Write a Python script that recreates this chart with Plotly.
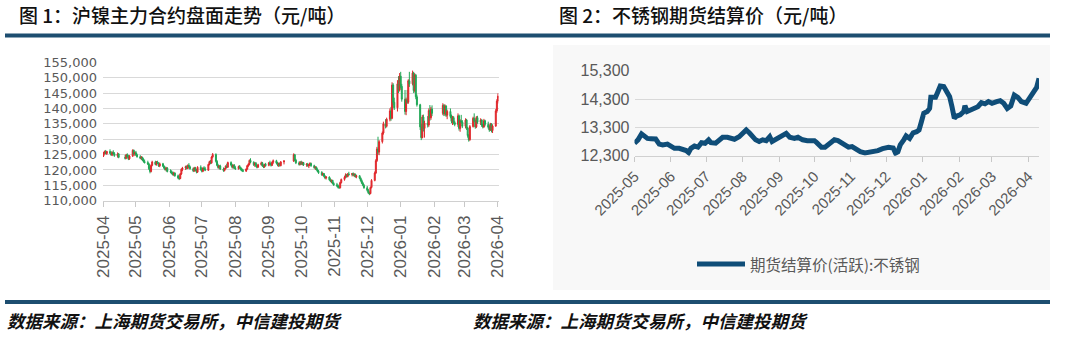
import pandas as pd
import plotly.graph_objects as go

# ---------------- Figure 1: SHFE nickel main contract, daily OHLC (thousand yuan/t) ----------------
ni_start, ni_end = "2025-04-01", "2026-04-01"
ni_no_trade = [("2025-04-16", "2025-04-18"), ("2025-09-16", "2025-09-23"),
               ("2025-12-17", "2025-12-17"), ("2026-01-31", "2026-02-08")]

ni_open = [
    # Apr 2025
    124.6,125.6,125.9,125.3,126.0,125.4,124.9,125.7,125.3,124.6,125.2,124.1,123.8,124.9,124.3,123.6,124.5,126.4,125.2,
    # May
    125.6,124.9,124.3,123.8,124.1,123.2,122.7,122.4,121.9,120.4,119.5,121.5,122.6,121.8,122.5,122.2,121.3,122.0,121.2,120.6,120.1,120.6,
    # Jun
    119.5,119.3,119.0,118.5,119.0,118.1,117.4,117.2,118.7,120.2,120.6,121.1,120.5,121.5,121.0,120.4,119.7,120.6,119.9,119.3,120.9,
    # Jul
    120.1,119.6,120.6,120.4,119.9,121.8,122.7,122.3,124.2,125.0,122.8,121.5,120.8,121.3,120.3,119.8,120.4,121.2,120.9,122.4,121.6,120.9,121.5,
    # Aug
    120.6,120.4,121.1,120.7,120.2,119.8,119.6,120.3,121.4,121.8,123.1,122.5,121.7,122.2,121.3,120.9,121.7,122.3,121.4,121.0,121.8,
    # Sep
    121.5,122.3,122.0,121.5,122.5,123.0,122.2,121.6,122.1,121.4,122.6,122.9,124.9,123.2,122.3,121.8,
    # Oct
    122.5,122.0,122.4,121.6,121.9,121.3,121.7,122.1,121.4,120.7,120.9,120.1,119.5,119.2,118.4,118.8,117.9,117.4,117.7,116.8,116.3,116.6,115.6,
    # Nov
    115.2,114.9,114.4,114.2,115.9,116.9,117.6,118.4,117.9,118.7,118.5,118.8,118.3,118.6,117.8,118.1,117.3,116.5,115.7,115.0,
    # Dec
    114.2,113.4,112.6,112.3,114.3,116.6,119.0,123.0,126.8,125.8,129.2,132.0,135.0,134.2,136.5,139.2,136.8,147.6,142.0,140.2,148.0,146.0,
    # Jan 2026
    150.5,147.2,143.0,139.0,142.8,142.0,149.0,148.0,151.5,145.8,150.8,143.8,141.2,134.0,130.5,137.2,133.5,135.2,134.6,139.3,137.0,139.8,
    # Feb
    138.4,141.0,138.2,140.8,137.8,139.0,137.4,135.8,137.0,135.4,134.8,137.6,133.5,136.0,135.6,
    # Mar
    134.2,136.2,133.6,131.2,129.8,134.1,136.8,136.0,134.0,137.0,135.5,136.2,134.6,134.0,136.0,134.8,133.9,133.0,134.9,132.8,134.3,139.2,
    # Apr
    142.4,
]
ni_high = [
    125.9,126.3,126.5,126.2,126.7,126.1,126.0,126.4,125.8,125.7,125.5,124.9,125.2,125.4,124.9,124.8,126.7,126.6,126.0,
    126.2,125.3,124.8,124.5,124.3,123.8,123.4,123.0,122.3,120.8,121.8,123.0,123.0,122.9,123.0,122.5,122.4,122.3,121.5,121.1,121.0,120.9,
    120.2,119.9,119.5,119.4,119.2,118.5,118.2,119.0,120.5,121.0,121.4,121.5,121.8,122.2,121.4,120.8,121.0,121.0,120.3,121.2,121.5,
    120.6,120.9,121.2,121.0,122.0,123.0,123.2,124.5,125.5,125.4,123.2,122.0,121.6,121.7,120.8,120.6,121.5,122.0,122.7,122.8,122.0,121.8,121.9,
    121.2,121.4,121.6,121.0,120.6,120.3,120.5,121.6,122.2,123.4,123.8,122.8,122.5,122.6,121.7,122.0,122.7,122.6,121.8,122.0,122.3,
    122.6,123.0,122.4,122.8,123.4,123.3,122.6,122.4,122.4,122.9,123.2,125.4,125.2,123.6,122.8,122.9,
    123.0,122.7,122.6,122.2,122.3,121.9,122.5,122.4,121.7,121.2,121.1,120.5,120.0,119.6,119.1,119.0,118.3,118.0,117.9,117.3,116.9,116.8,116.0,
    115.8,115.3,115.0,116.2,117.2,118.0,118.9,118.7,119.0,119.4,119.0,119.2,118.9,118.8,118.4,118.3,117.6,116.9,116.1,115.4,
    114.8,113.8,113.0,114.6,117.0,119.5,123.5,127.5,130.8,129.7,132.5,135.7,136.5,137.0,140.0,140.5,148.5,148.2,143.5,149.2,150.5,151.5,
    151.9,148.0,146.0,143.5,146.0,149.5,151.9,152.3,151.9,151.4,151.2,144.5,141.5,135.0,137.9,138.0,136.0,137.5,140.0,141.1,140.5,141.0,
    141.7,141.4,141.3,141.0,139.6,140.0,138.0,137.6,137.5,136.0,138.4,138.0,136.5,137.9,136.2,
    136.8,136.6,134.0,131.6,134.6,137.3,138.4,136.4,137.5,137.6,136.8,136.5,135.0,136.6,136.3,135.7,134.5,135.3,135.2,134.8,139.8,143.0,
    144.9,
]
ni_low = [
    124.2,125.0,125.1,124.9,125.2,124.6,124.5,125.0,124.3,124.0,123.8,123.4,123.5,124.0,123.2,123.3,124.2,124.8,124.5,
    124.6,124.0,123.5,123.2,122.9,122.4,122.1,121.6,120.0,118.9,119.2,121.2,121.5,121.4,121.9,121.0,120.9,121.0,120.3,119.8,119.5,119.2,
    118.9,118.6,118.2,118.0,117.8,117.0,116.7,117.0,118.4,119.6,120.0,120.2,120.3,120.8,120.1,119.3,119.4,119.6,118.9,119.0,119.8,
    119.2,119.3,120.0,119.6,119.7,121.5,121.9,122.0,123.8,122.4,121.2,120.4,120.2,120.0,119.4,119.5,120.2,120.6,120.7,121.2,120.5,120.4,120.3,
    120.0,120.1,120.4,119.8,119.5,119.3,119.4,120.1,121.0,121.5,122.2,121.3,121.0,120.9,120.5,120.7,121.4,121.0,120.6,120.7,121.1,
    121.2,121.7,121.1,121.3,122.0,121.9,121.2,121.0,121.1,121.2,121.8,122.6,122.8,121.9,121.4,121.5,
    121.6,121.5,121.3,121.0,121.1,120.6,121.3,121.0,120.4,120.0,119.8,119.2,118.7,118.1,118.0,117.6,117.0,116.9,116.5,116.0,115.7,115.3,114.8,
    114.4,114.0,113.9,114.0,115.6,116.5,117.3,117.5,117.6,118.1,117.9,118.0,117.7,117.5,117.3,117.0,116.2,115.4,114.7,113.9,
    113.0,112.2,111.8,112.1,114.0,116.3,118.7,122.6,125.0,124.8,128.6,131.5,133.5,133.8,135.8,136.0,136.5,141.0,139.5,139.0,145.0,145.5,
    146.5,142.2,138.0,137.8,141.5,141.5,147.0,147.5,145.0,145.2,143.0,140.6,133.0,129.7,130.3,132.5,130.5,133.8,134.0,136.0,136.3,137.5,
    137.8,137.5,137.6,137.2,136.5,136.8,135.2,134.6,134.8,134.2,134.0,132.8,132.4,135.0,133.6,
    133.5,133.0,130.5,129.2,129.5,133.8,135.5,133.4,133.6,135.0,134.6,134.0,133.5,133.7,134.2,133.4,132.4,132.7,132.2,132.0,134.0,138.6,
    141.6,
]
ni_close = [
    125.6,125.9,125.3,126.0,125.4,124.9,125.7,125.3,124.6,125.2,124.1,123.8,124.9,124.3,123.6,124.5,126.4,125.2,125.6,
    124.9,124.3,123.8,124.1,123.2,122.7,122.4,121.9,120.4,119.5,121.5,122.6,121.8,122.5,122.2,121.3,122.0,121.2,120.6,120.1,120.6,119.5,
    119.3,119.0,118.5,119.0,118.1,117.4,117.2,118.7,120.2,120.6,121.1,120.5,121.5,121.0,120.4,119.7,120.6,119.9,119.3,120.9,120.1,
    119.6,120.6,120.4,119.9,121.8,122.7,122.3,124.2,125.0,122.8,121.5,120.8,121.3,120.3,119.8,120.4,121.2,120.9,122.4,121.6,120.9,121.5,120.6,
    120.4,121.1,120.7,120.2,119.8,119.6,120.3,121.4,121.8,123.1,122.5,121.7,122.2,121.3,120.9,121.7,122.3,121.4,121.0,121.8,121.5,
    122.3,122.0,121.5,122.5,123.0,122.2,121.6,122.1,121.4,122.6,122.9,124.9,123.2,122.3,121.8,122.5,
    122.0,122.4,121.6,121.9,121.3,121.7,122.1,121.4,120.7,120.9,120.1,119.5,119.2,118.4,118.8,117.9,117.4,117.7,116.8,116.3,116.6,115.6,115.2,
    114.9,114.4,114.2,115.9,116.9,117.6,118.4,117.9,118.7,118.5,118.8,118.3,118.6,117.8,118.1,117.3,116.5,115.7,115.0,114.2,
    113.4,112.6,112.3,114.3,116.6,119.0,123.0,126.8,125.8,129.2,132.0,135.0,134.2,136.5,139.2,136.8,147.6,142.0,140.2,148.0,146.0,150.5,
    147.2,143.0,139.0,142.8,142.0,149.0,148.0,151.5,145.8,150.8,143.8,141.2,134.0,130.5,137.2,133.5,135.2,134.6,139.3,137.0,139.8,138.4,
    141.0,138.2,140.8,137.8,139.0,137.4,135.8,137.0,135.4,134.8,137.6,133.5,136.0,135.6,134.2,
    136.2,133.6,131.2,129.8,134.1,136.8,136.0,134.0,137.0,135.5,136.2,134.6,134.0,136.0,134.8,133.9,133.0,134.9,132.8,134.3,139.2,142.4,
    144.0,
]
ni_ticks = ["2025-04-01", "2025-05-01", "2025-06-01", "2025-07-01", "2025-08-01", "2025-09-01", "2025-10-01",
            "2025-11-01", "2025-12-01", "2026-01-01", "2026-02-01", "2026-03-01", "2026-04-01"]

# ---------------- Figure 2: stainless steel futures settlement price (yuan/t) ----------------
ss_dates = [
    "2025-05-01","2025-05-04","2025-05-07","2025-05-09","2025-05-12","2025-05-15","2025-05-19","2025-05-22","2025-05-25","2025-05-29",
    "2025-06-01","2025-06-04","2025-06-08","2025-06-11","2025-06-14","2025-06-16","2025-06-18","2025-06-21","2025-06-24","2025-06-27",
    "2025-06-30","2025-07-03","2025-07-05","2025-07-09","2025-07-12","2025-07-15","2025-07-19","2025-07-22","2025-07-25","2025-07-29",
    "2025-08-01","2025-08-04","2025-08-07","2025-08-09","2025-08-12","2025-08-15","2025-08-18","2025-08-21","2025-08-24","2025-08-26",
    "2025-08-29","2025-09-01","2025-09-04","2025-09-07","2025-09-10","2025-09-14","2025-09-17","2025-09-21","2025-09-25","2025-10-01",
    "2025-10-03","2025-10-07","2025-10-10","2025-10-12","2025-10-16","2025-10-18","2025-10-21","2025-10-25","2025-10-30","2025-11-02",
    "2025-11-05","2025-11-09","2025-11-13","2025-11-19","2025-11-20","2025-11-24","2025-11-28","2025-12-03","2025-12-07","2025-12-09",
    "2025-12-11","2025-12-13","2025-12-16","2025-12-18","2025-12-21","2025-12-24","2025-12-27","2025-12-29","2025-12-31","2026-01-02",
    "2026-01-05","2026-01-07","2026-01-08","2026-01-12","2026-01-14","2026-01-16","2026-01-19","2026-01-22","2026-01-24","2026-01-26",
    "2026-01-28","2026-01-30","2026-02-02","2026-02-05","2026-02-06","2026-02-08","2026-02-11","2026-02-17","2026-02-20","2026-02-23",
    "2026-02-26","2026-03-01","2026-03-05","2026-03-08","2026-03-11","2026-03-14","2026-03-17","2026-03-20","2026-03-23","2026-03-26",
    "2026-03-30","2026-04-01","2026-04-05","2026-04-08","2026-04-10",
]
ss_price = [
    12740,12860,13070,13000,12910,12900,12890,12710,12680,12710,
    12620,12560,12560,12530,12480,12410,12560,12640,12600,12760,
    12740,12860,12760,12740,12860,12950,12950,12900,12880,12970,
    13090,13210,13090,13000,12860,12800,12860,12830,12970,12800,
    12880,12950,13000,13090,12950,12910,12950,12860,12830,12830,
    12760,12600,12600,12680,12800,12860,12830,12710,12600,12620,
    12530,12440,12400,12440,12410,12480,12550,12600,12570,12390,
    12440,12680,12860,13000,12910,13110,13150,13210,13500,13800,
    13860,13970,14360,14360,14560,14760,14740,14560,14380,14030,
    13620,13700,13740,13860,14060,13860,13910,14030,14170,14130,
    14210,14150,14210,14240,14150,13970,14060,14440,14360,14210,
    14150,14270,14560,14710,15030,
]
ss_name = "期货结算价(活跃):不锈钢"
ss_ticks = ["2025-05-01", "2025-06-01", "2025-07-01", "2025-08-01", "2025-09-01", "2025-10-01", "2025-11-01",
            "2025-12-01", "2026-01-01", "2026-02-01", "2026-03-01", "2026-04-01"]

title1 = "图 1：沪镍主力合约盘面走势（元/吨）"
title2 = "图 2：不锈钢期货结算价（元/吨）"
source = "数据来源：上海期货交易所，中信建投期货"

# ---------------- build ----------------
days = pd.bdate_range(ni_start, ni_end)
keep = pd.Series(True, index=days)
for a, b in ni_no_trade:
    keep[(days >= pd.Timestamp(a)) & (days <= pd.Timestamp(b))] = False
ni_dates = days[keep.values]
n = min(len(ni_dates), len(ni_open), len(ni_high), len(ni_low), len(ni_close))

W, H = 1080, 337
def px(x): return x / W
def py(y): return 1 - y / H

CJK = "Noto Sans CJK SC, Noto Sans, sans-serif"
NUM = "Liberation Sans, Arial, sans-serif"
WIDE = "DejaVu Sans, Verdana, sans-serif"
GRAY = "#595959"
RULE = "#1d4e70"
LINE = "#0f4d78"

fig = go.Figure()
fig.add_trace(go.Candlestick(
    x=ni_dates[:n],
    open=[v * 1000 for v in ni_open[:n]], high=[v * 1000 for v in ni_high[:n]],
    low=[v * 1000 for v in ni_low[:n]], close=[v * 1000 for v in ni_close[:n]],
    increasing=dict(line=dict(color="#e0262b", width=1), fillcolor="#e8322f"),
    decreasing=dict(line=dict(color="#1fa755", width=1), fillcolor="#27b35f"),
    whiskerwidth=0, xaxis="x", yaxis="y", showlegend=False, name="沪镍主力合约",
))
fig.add_trace(go.Scatter(
    x=ss_dates, y=ss_price, mode="lines", name=ss_name,
    line=dict(color=LINE, width=5), xaxis="x2", yaxis="y2", showlegend=False,
))

fig.update_layout(
    width=W, height=H, margin=dict(l=0, r=0, t=0, b=0, autoexpand=False),
    paper_bgcolor="white", plot_bgcolor="rgba(0,0,0,0)",
    boxgap=0, boxgroupgap=0.1, showlegend=False,
    xaxis=dict(domain=[px(103), px(498.5)], type="date", range=["2025-03-31 12:00", "2026-04-01 12:00"],
               tickvals=ni_ticks, tickformat="%Y-%m", tickangle=-90, rangeslider=dict(visible=False),
               showline=True, anchor="y", automargin=False, showgrid=False, zeroline=False,
               linecolor="#d0d0d0", linewidth=1, ticks="outside", ticklen=5, tickcolor="#c8c8c8",
               ticklabelstandoff=2, tickfont=dict(family=NUM, size=17, color=GRAY)),
    yaxis=dict(domain=[py(200.7), py(62.3)], range=[110000, 155000], dtick=5000, tickformat=",",
               showgrid=True, gridcolor="#d9d9d9", gridwidth=1, zeroline=False, showline=False, ticks="",
               ticklabelstandoff=5, automargin=False,
               tickfont=dict(family=WIDE, size=13, color=GRAY), anchor="x"),
    xaxis2=dict(domain=[px(634.5), px(1039)], type="date", range=["2025-05-01", "2026-04-10"],
                tickvals=ss_ticks, tickformat="%Y-%m", tickangle=-45, showline=True, anchor="y2",
                automargin=False, zeroline=False, linecolor="#d0d0d0", linewidth=1, ticks="outside",
                ticklen=5, tickcolor="#c8c8c8", tickfont=dict(family=NUM, size=15, color=GRAY), showgrid=False),
    yaxis2=dict(domain=[py(155.7), py(70.7)], range=[12300, 15300], tick0=12300, dtick=1000, tickformat=",",
                showgrid=True, gridcolor="#d9d9d9", gridwidth=1, zeroline=False, showline=False, ticks="",
                ticklabelstandoff=4, automargin=False,
                tickfont=dict(family=NUM, size=16, color=GRAY), anchor="x2"),
)

shapes = [
    dict(type="rect", xref="paper", yref="paper", x0=px(553), x1=px(1050), y0=py(290), y1=py(45),
         fillcolor="#f8f8f8", line=dict(width=0), layer="below"),
    dict(type="rect", xref="paper", yref="paper", x0=px(5), x1=px(1050), y0=py(37.5), y1=py(33.5),
         fillcolor=RULE, line=dict(width=0)),
    dict(type="rect", xref="paper", yref="paper", x0=px(5), x1=px(1050), y0=py(304), y1=py(300),
         fillcolor=RULE, line=dict(width=0)),
    dict(type="line", xref="paper", yref="paper", x0=px(697), x1=px(745), y0=py(264), y1=py(264),
         line=dict(color=LINE, width=5)),
]
fig.update_layout(shapes=shapes)

ann = [
    dict(text=title1, x=px(17), y=py(15), xanchor="left", yanchor="middle",
         font=dict(family=CJK, size=19, color="#111111", weight=500)),
    dict(text=title2, x=px(557), y=py(15), xanchor="left", yanchor="middle",
         font=dict(family=CJK, size=19, color="#111111", weight=500)),
    dict(text=ss_name, x=px(748), y=py(264), xanchor="left", yanchor="middle",
         font=dict(family=CJK, size=15.5, color=GRAY)),
    dict(text="<b><i>" + source + "</i></b>", x=px(5), y=py(320), xanchor="left", yanchor="middle",
         font=dict(family=CJK, size=17.5, color="#111111")),
    dict(text="<b><i>" + source + "</i></b>", x=px(471), y=py(320), xanchor="left", yanchor="middle",
         font=dict(family=CJK, size=17.5, color="#111111")),
]
for a in ann:
    a.update(xref="paper", yref="paper", showarrow=False)
fig.update_layout(annotations=ann)

fig.write_html("out.html")
